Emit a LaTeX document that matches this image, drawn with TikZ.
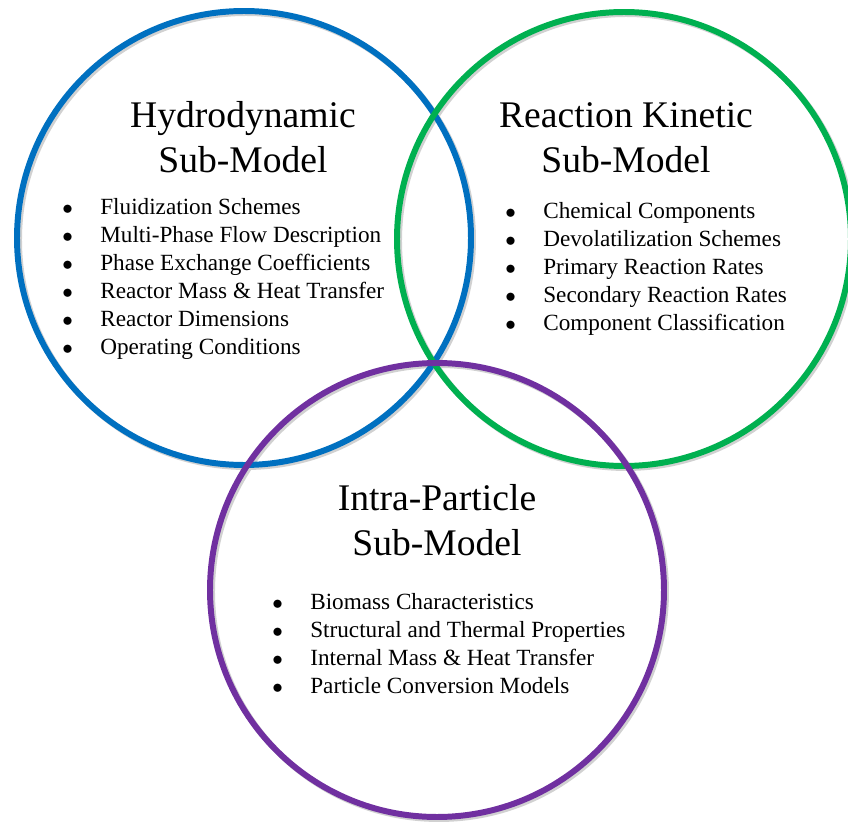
\documentclass[tikz,border=0pt]{standalone}
\usepackage{fontspec}
\setmainfont{Liberation Serif}
\usepackage{xcolor}
\usepackage{tikz}
\usetikzlibrary{positioning}
\definecolor{hydroBlue}{HTML}{0070C0}
\definecolor{kinGreen}{HTML}{00B050}
\definecolor{partPurple}{HTML}{7030A0}

\tikzset{
  ring/.style={line width=3.4pt},
  ringshadow/.style={line width=3.4pt,black!18},
  title/.style={align=center,font=\fontsize{21.4}{25.7}\selectfont},
  items/.style={inner sep=0pt,anchor=base west,font=\fontsize{13.2}{15.9}\selectfont}
}
\newcommand{\itemlist}[1]{\begin{tabular}[t]{@{}l@{\hspace{15.6pt}}l@{}}#1\end{tabular}}
\newcommand{\itm}{$\bullet$}

\begin{document}
\begin{tikzpicture}
    \useasboundingbox (0,0) rectangle (16.96,16.44);
    % the three sub-models
    \coordinate (hyd) at (4.88,11.68);
    \coordinate (kin) at (12.48,11.66);
    \coordinate (par) at (8.74,4.64);
    \foreach \c in {hyd,kin,par}
      \draw[ringshadow] ([shift={(0.04,-0.04)}]\c) circle (4.54);
    \draw[ring,hydroBlue] (hyd) circle (4.54);
    \draw[ring,kinGreen] (kin) circle (4.54);
    \draw[ring,partPurple] (par) circle (4.54);

    \node[title] (hydT) at (4.86,13.70) {Hydrodynamic\\Sub-Model};
    \node[title] (kinT) at (12.52,13.68) {Reaction Kinetic\\Sub-Model};
    \node[title] (parT) at (8.74,6.04) {Intra-Particle\\Sub-Model};

    \node[items] (hydL) at (1.24,12.14) {\itemlist{%
      \itm & Fluidization Schemes\\
      \itm & Multi-Phase Flow Description\\
      \itm & Phase Exchange Coefficients\\
      \itm & Reactor Mass \& Heat Transfer\\
      \itm & Reactor Dimensions\\
      \itm & Operating Conditions}};
    \node[items] (kinL) at (10.10,12.06) {\itemlist{%
      \itm & Chemical Components\\
      \itm & Devolatilization Schemes\\
      \itm & Primary Reaction Rates\\
      \itm & Secondary Reaction Rates\\
      \itm & Component Classification}};
    \node[items] (parL) at (5.44,4.24) {\itemlist{%
      \itm & Biomass Characteristics\\
      \itm & Structural and Thermal Properties\\
      \itm & Internal Mass \& Heat Transfer\\
      \itm & Particle Conversion Models}};
\end{tikzpicture}
\end{document}
